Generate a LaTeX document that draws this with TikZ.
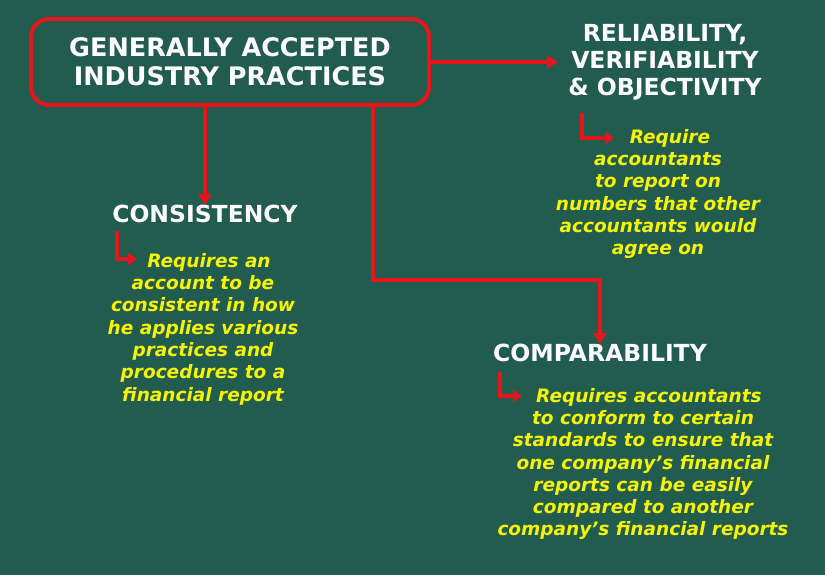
\documentclass[tikz,border=0pt]{standalone}
\usepackage{fontspec}
\setmainfont{DejaVu Sans}
\usetikzlibrary{arrows.meta}
\definecolor{bg}{HTML}{215C4E}
\definecolor{rd}{HTML}{E8141C}
\definecolor{yl}{HTML}{F5F500}
\begin{document}
\begin{tikzpicture}[x=1pt,y=-1pt,
  conn/.style={draw=rd,line width=3.5pt,-{Triangle[length=11pt,width=13pt]}},
  small/.style={draw=rd,line width=4pt,-{Triangle[length=9pt,width=12pt]}},
  title/.style={text=white,font=\bfseries\fontsize{23.5}{27}\selectfont,align=center,inner sep=0pt},
  desc/.style={text=yl,font=\bfseries\itshape\fontsize{18.5}{22.3}\selectfont,align=center,inner sep=0pt}]
\fill[bg] (0,0) rectangle (825,575);
\useasboundingbox (0,0) rectangle (825,575);
\node[draw=rd,line width=4pt,rounded corners=18pt,fill=bg,minimum width=398pt,minimum height=86pt,
  text=white,font=\bfseries\fontsize{25.5}{29}\selectfont,align=center] (main) at (230,62)
  {GENERALLY ACCEPTED\\INDUSTRY PRACTICES};
\node[title] (rel) at (665,62) {RELIABILITY,\\VERIFIABILITY\\\& OBJECTIVITY};
\node[title] (con) at (205,214) {CONSISTENCY};
\node[title] (com) at (600,353) {COMPARABILITY};
\node[desc] (reld) at (658,194) {\phantom{xx}Require\\accountants\\to report on\\numbers that other\\accountants would\\agree on};
\node[desc] (cond) at (203,329) {\phantom{x}Requires an\\account to be\\consistent in how\\he applies various\\practices and\\procedures to a\\financial report};
\node[desc] (comd) at (643,464) {\phantom{x}Requires accountants\\to conform to certain\\standards to ensure that\\one company’s financial\\reports can be easily\\compared to another\\company’s financial reports};
\draw[conn] (main.east) -- (558,62);
\draw[conn] (main.south -| 205,0) -- (con.north -| 205,0);
\coordinate (c1) at (373,280);
\draw[conn] (main.south -| 373,0) -- (c1) -- (600,280) -- (com.north -| 600,0);
\coordinate (r1) at (614,138);
\draw[small] (582,113) -- (582,138) -- (r1);
\coordinate (k1) at (137,259);
\draw[small] (117,231) -- (117,259) -- (k1);
\coordinate (m1) at (522,396);
\draw[small] (500,372) -- (500,396) -- (m1);
\end{tikzpicture}
\end{document}
